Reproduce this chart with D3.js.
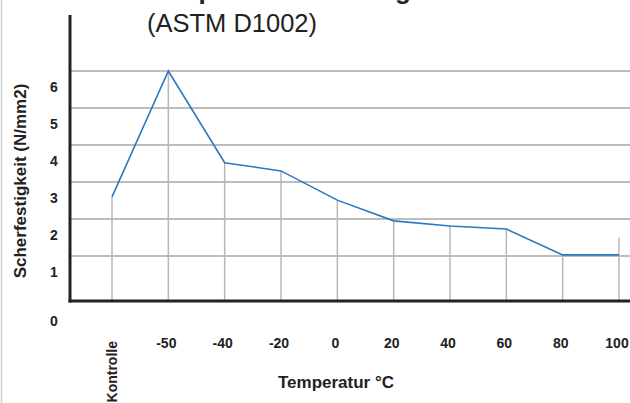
<!DOCTYPE html>
<html>
<head>
<meta charset="utf-8">
<script src="https://cdn.jsdelivr.net/npm/d3@7"></script>
<style>
body { margin:0; background:#fff; }
text { font-family: "Liberation Sans", Arial, sans-serif; fill:#222; }
</style>
</head>
<body>
<svg id="chart" width="630" height="403"></svg>
<script>
var categories = ["Kontrolle", "-50", "-40", "-20", "0", "20", "40", "60", "80", "100"];
var values = [2.6, 6.0, 3.52, 3.3, 2.51, 1.95, 1.81, 1.73, 1.03, 1.03];
var dropTops = [2.6, 6.0, 3.52, 3.3, 2.51, 1.95, 1.81, 1.73, 1.03, 1.5];
var yTicks = [0, 1, 2, 3, 4, 5, 6];

var svg = d3.select("#chart");
var baseY = 301;

var x = d3.scalePoint().domain(categories).range([112, 619]);
var y = d3.scaleLinear().domain([0, 6]).range([293, 71]);

svg.append("rect").attr("width", 630).attr("height", 403).attr("fill", "#fff");

// page border left
svg.append("line").attr("x1", 1.5).attr("x2", 1.5).attr("y1", 0).attr("y2", 403)
    .attr("stroke", "#cfcfcf").attr("stroke-width", 1.5);

// titles (main title is cut by the top edge, only descenders show)
svg.append("text").attr("x", 147).attr("y", -1.5)
    .style("font-size", "26px").style("font-weight", "bold")
    .text("Temperaturbeständigkeit");
svg.append("text").attr("x", 147).attr("y", 32)
    .style("font-size", "25.5px")
    .text("(ASTM D1002)");

// horizontal grid
svg.selectAll(".hgrid").data(yTicks.filter(function (d) { return d > 0; }))
    .enter().append("line").attr("class", "hgrid")
    .attr("x1", 71).attr("x2", 630)
    .attr("y1", function (d) { return y(d); }).attr("y2", function (d) { return y(d); })
    .attr("stroke", "#bdbdbd").attr("stroke-width", 1.8);

// drop lines
svg.selectAll(".drop").data(categories)
    .enter().append("line").attr("class", "drop")
    .attr("x1", function (d) { return x(d); }).attr("x2", function (d) { return x(d); })
    .attr("y1", function (d, i) { return y(dropTops[i]); }).attr("y2", baseY)
    .attr("stroke", "#b8b8b8").attr("stroke-width", 1.5);

// data line
var line = d3.line()
    .x(function (d, i) { return x(categories[i]); })
    .y(function (d) { return y(d); });
svg.append("path").datum(values)
    .attr("d", line).attr("fill", "none")
    .attr("stroke", "#2a78c2").attr("stroke-width", 1.6);

// axes
svg.append("line").attr("x1", 70).attr("x2", 70).attr("y1", 15).attr("y2", baseY + 1.5)
    .attr("stroke", "#222").attr("stroke-width", 3);
svg.append("line").attr("x1", 68.5).attr("x2", 630).attr("y1", baseY).attr("y2", baseY)
    .attr("stroke", "#222").attr("stroke-width", 3);

// y tick labels
svg.selectAll(".ylab").data(yTicks)
    .enter().append("text").attr("class", "ylab")
    .attr("x", 54)
    .attr("y", function (d) { return d === 0 ? baseY + 25 : y(d) + 21; })
    .attr("text-anchor", "middle")
    .style("font-size", "14px").style("font-weight", "bold")
    .text(function (d) { return d; });

// x tick labels
svg.selectAll(".xlab").data(categories.slice(1))
    .enter().append("text").attr("class", "xlab")
    .attr("x", function (d) { return x(d) - 2; })
    .attr("y", 348)
    .attr("text-anchor", "middle")
    .style("font-size", "14px").style("font-weight", "bold")
    .text(function (d) { return d; });

svg.append("text")
    .attr("transform", "translate(" + (x(categories[0]) + 5) + ",341) rotate(-90)")
    .attr("text-anchor", "end")
    .style("font-size", "14px").style("font-weight", "bold")
    .text(categories[0]);

// axis titles
svg.append("text").attr("x", 336).attr("y", 388)
    .attr("text-anchor", "middle")
    .style("font-size", "17px").style("font-weight", "bold")
    .text("Temperatur °C");
svg.append("text")
    .attr("transform", "translate(26,181) rotate(-90)")
    .attr("text-anchor", "middle")
    .style("font-size", "17px").style("font-weight", "bold")
    .text("Scherfestigkeit (N/mm2)");
</script>
</body>
</html>
